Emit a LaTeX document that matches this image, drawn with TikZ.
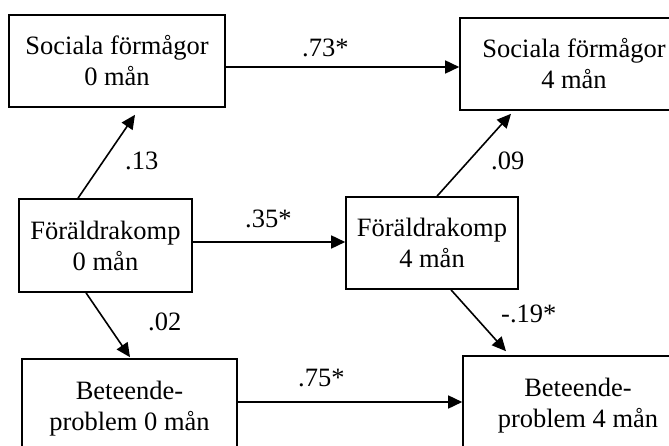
\documentclass[tikz,border=0pt]{standalone}
\usepackage{fontspec}
\setmainfont{Liberation Serif}
\usetikzlibrary{arrows.meta}
\begin{document}
\begin{tikzpicture}[x=1pt,y=-1pt,
  box/.style={draw=black,line width=1.6pt,rectangle,inner sep=0pt,align=center,
    font=\fontsize{26.5}{31}\selectfont},
  arr/.style={line width=1.6pt,-{Triangle[length=14pt,width=13pt]}},
  lbl/.style={inner sep=0pt,anchor=base west,font=\fontsize{26.5}{31}\selectfont}]
\clip (0,0) rectangle (669,446);
\useasboundingbox (0,0) rectangle (669,446);
\node[box,minimum width=216pt,minimum height=92pt] (s0) at (117,61) {Sociala förmågor\\0 mån};
\node[box,minimum width=228pt,minimum height=92pt] (s4) at (574,64) {Sociala förmågor\\4 mån};
\node[box,minimum width=173pt,minimum height=93pt] (f0) at (105.5,245.5) {Föräldrakomp\\0 mån};
\node[box,minimum width=172pt,minimum height=92pt] (f4) at (432,243) {Föräldrakomp\\4 mån};
\node[box,minimum width=215pt,minimum height=100pt] (b0) at (129.5,409)
  {\raisebox{8pt}{\begin{tabular}{@{}c@{}}Beteende-\\problem 0 mån\end{tabular}}};
\node[box,minimum width=230pt,minimum height=100pt] (b4) at (578,406)
  {\raisebox{6pt}{\begin{tabular}{@{}c@{}}Beteende-\\problem 4 mån\end{tabular}}};

\draw[arr] ([yshift=-6pt]s0.east) -- ([yshift=-3pt]s4.west);
\draw[arr] ([xshift=-27.5pt]f0.north) -- ([xshift=18pt,yshift=-7pt]s0.south);
\draw[arr] ([yshift=3.5pt]f0.east) -- ([yshift=1pt]f4.west);
\draw[arr] ([xshift=-19.5pt]f0.south) -- ([xshift=0.5pt,yshift=1pt]b0.north);
\draw[arr] ([xshift=5pt]f4.north) -- ([xshift=-63pt,yshift=-3pt]s4.south);
\draw[arr] ([xshift=19pt]f4.south) -- ([xshift=-72pt,yshift=4pt]b4.north);
\draw[arr] ([yshift=7pt]b0.east) -- ([yshift=4pt]b4.west);

\node[lbl] (l73) at (302,57) {.73*};
\node[lbl] (l13) at (125,170) {.13};
\node[lbl] (l35) at (245,228) {.35*};
\node[lbl] (l02) at (148,330) {.02};
\node[lbl] (l75) at (298,386) {.75*};
\node[lbl] (l09) at (491,170) {.09};
\node[lbl] (l19) at (501,322) {-.19*};
\end{tikzpicture}
\end{document}
